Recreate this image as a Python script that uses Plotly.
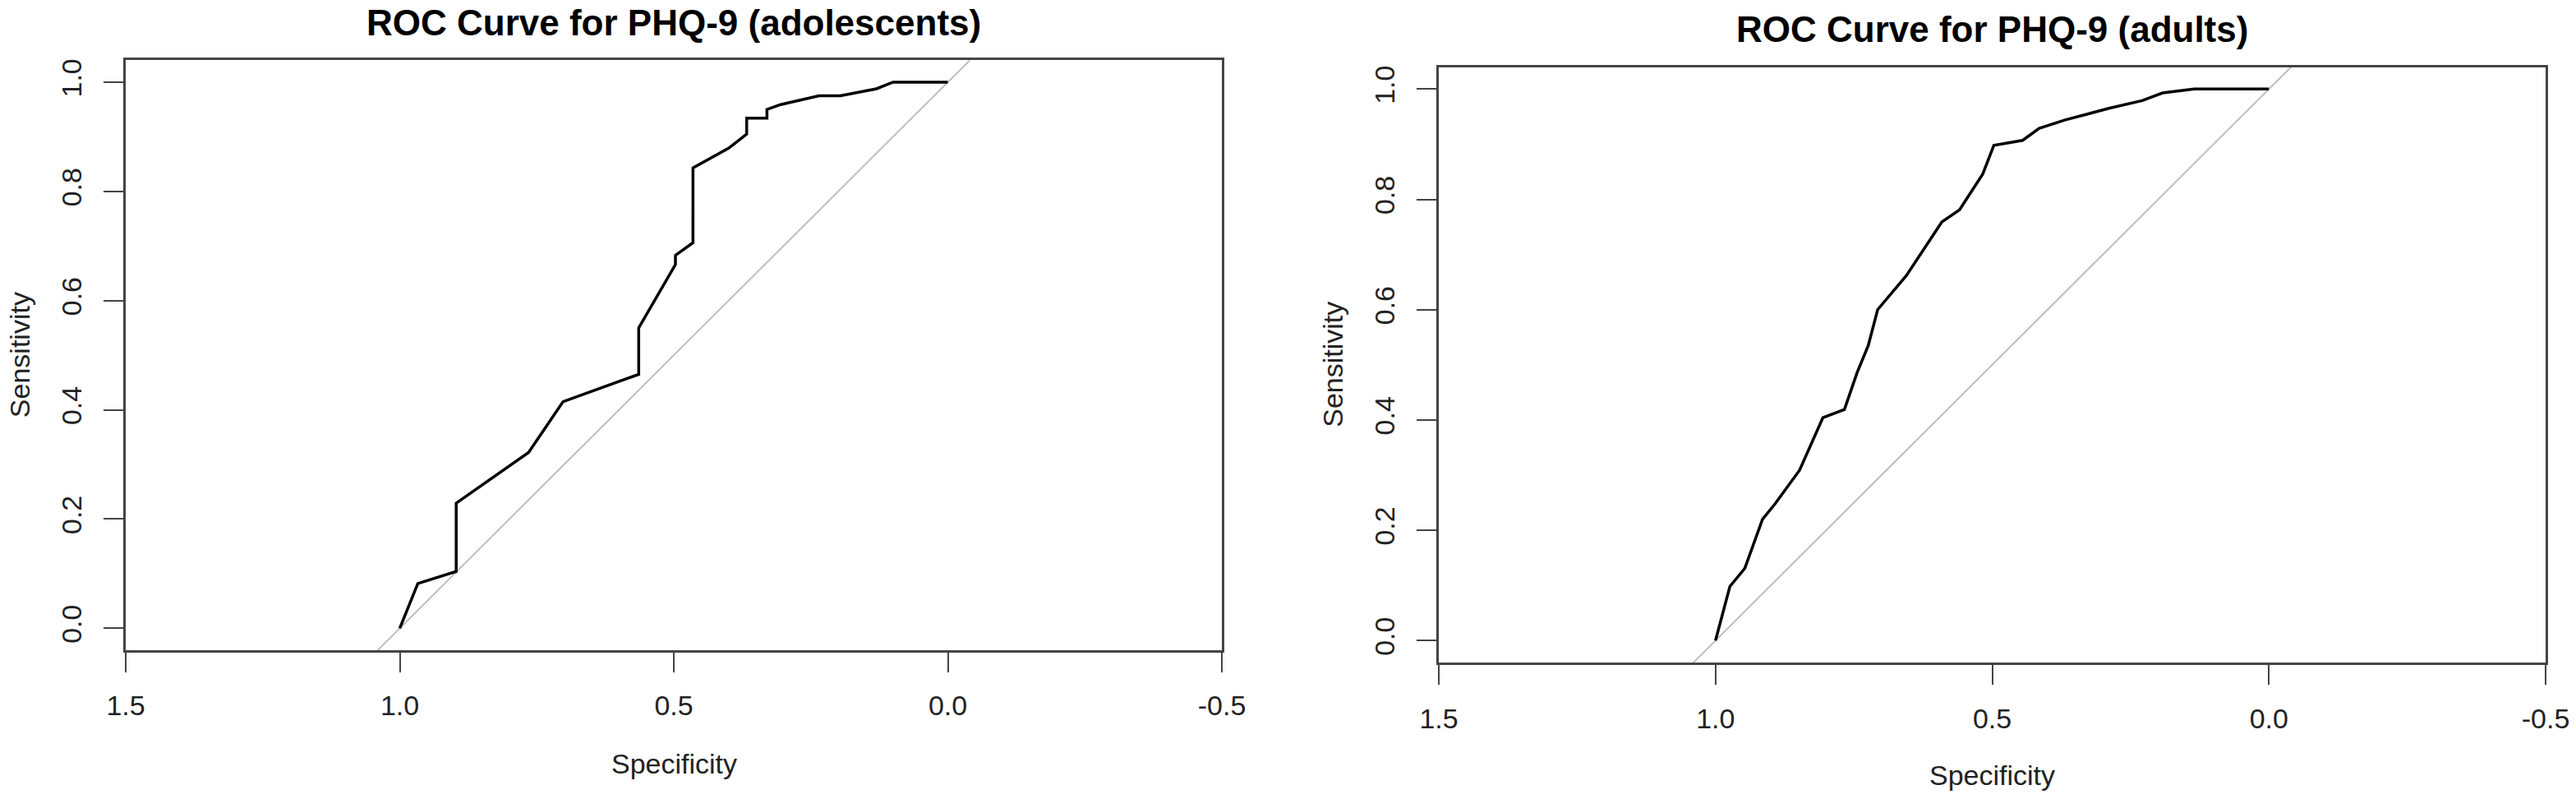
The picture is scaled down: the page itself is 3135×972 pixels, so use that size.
import plotly.graph_objects as go

# ---- data ----
adol_spec = [1.0, 0.967, 0.897, 0.897, 0.765, 0.702, 0.564, 0.564, 0.497, 0.497, 0.465, 0.465,
             0.400, 0.367, 0.367, 0.330, 0.330, 0.305, 0.235, 0.196, 0.130, 0.100, 0.0]
adol_sens = [0.0, 0.082, 0.104, 0.229, 0.322, 0.415, 0.465, 0.550, 0.666, 0.683, 0.706, 0.843,
             0.879, 0.905, 0.934, 0.934, 0.950, 0.959, 0.975, 0.975, 0.988, 1.0, 1.0]

adult_spec = [1.0, 0.974, 0.947, 0.915, 0.893, 0.848, 0.806, 0.767, 0.744, 0.724, 0.707, 0.655,
              0.591, 0.559, 0.517, 0.497, 0.445, 0.415, 0.368, 0.289, 0.229, 0.192, 0.135, 0.0]
adult_sens = [0.0, 0.098, 0.131, 0.220, 0.247, 0.309, 0.404, 0.419, 0.486, 0.535, 0.600, 0.662,
              0.759, 0.781, 0.846, 0.898, 0.907, 0.929, 0.944, 0.965, 0.979, 0.993, 1.0, 1.0]

x_tickvals = [1.5, 1.0, 0.5, 0.0, -0.5]
x_ticktext = ["1.5", "1.0", "0.5", "0.0", "-0.5"]
y_tickvals = [0.0, 0.2, 0.4, 0.6, 0.8, 1.0]
y_ticktext = ["0.0", "0.2", "0.4", "0.6", "0.8", "1.0"]

titles = ["ROC Curve for PHQ-9 (adolescents)", "ROC Curve for PHQ-9 (adults)"]
x_label = "Specificity"
y_label = "Sensitivity"

x_range = [1.5, -0.5]
y_range = [-0.04, 1.04]

# reference diagonal (sensitivity = 1 - specificity) across the axis range
diag_x = [x_range[0], x_range[1]]
diag_y = [1 - v for v in diag_x]

# ---- layout geometry (target pixels in the screenshot) ----
W, H = 3135, 972
FONT = "Liberation Sans, Arial, Helvetica, sans-serif"
panels = [
    dict(box=(153, 1487, 73.4, 790.9), title_y=28, ylab_x=24, xlab_y=929),
    dict(box=(1751, 3098, 81.5, 806.1), title_y=36, ylab_x=1622, xlab_y=943),
]


def px(v):
    return v / W


def py(v):
    return 1 - v / H


fig = go.Figure()
series = [(adol_spec, adol_sens), (adult_spec, adult_sens)]
for i, (sx, sy) in enumerate(series):
    xa = "x" if i == 0 else "x2"
    ya = "y" if i == 0 else "y2"
    fig.add_trace(go.Scatter(x=diag_x, y=diag_y, xaxis=xa, yaxis=ya, mode="lines",
                             line=dict(color="#bebebe", width=2), hoverinfo="skip",
                             showlegend=False))
    fig.add_trace(go.Scatter(x=sx, y=sy, xaxis=xa, yaxis=ya, mode="lines",
                             line=dict(color="black", width=3.5), showlegend=False))

axis_common = dict(showgrid=False, zeroline=False, showline=True, mirror=True,
                   automargin=False,
                   linecolor="#444444", linewidth=2.5, ticks="outside", ticklen=24,
                   tickwidth=2, tickcolor="#444444",
                   tickfont=dict(family=FONT, size=34, color="#222222"))

annotations = []
for i, p in enumerate(panels):
    x0, x1, yt, yb = p["box"]
    xd = [px(x0), px(x1)]
    yd = [py(yb), py(yt)]
    sfx = "" if i == 0 else "2"
    fig.update_layout(**{
        "xaxis" + sfx: dict(axis_common, domain=xd, range=x_range, anchor="y" + sfx,
                            tickvals=x_tickvals, ticktext=x_ticktext, ticklabelstandoff=12),
        "yaxis" + sfx: dict(axis_common, domain=yd, range=y_range, anchor="x" + sfx,
                            tickvals=y_tickvals, ticktext=y_ticktext, tickangle=-90,
                            ticklabelstandoff=14),
    })
    cx = (x0 + x1) / 2
    cy = (yt + yb) / 2
    annotations.append(dict(text="<b>" + titles[i] + "</b>", x=px(cx), y=py(p["title_y"]),
                            xref="paper", yref="paper", xanchor="center", yanchor="middle",
                            showarrow=False, font=dict(family=FONT, size=44, color="black")))
    annotations.append(dict(text=x_label, x=px(cx), y=py(p["xlab_y"]),
                            xref="paper", yref="paper", xanchor="center", yanchor="middle",
                            showarrow=False, font=dict(family=FONT, size=34, color="#222222")))
    annotations.append(dict(text=y_label, x=px(p["ylab_x"]), y=py(cy), textangle=-90,
                            xref="paper", yref="paper", xanchor="center", yanchor="middle",
                            showarrow=False, font=dict(family=FONT, size=34, color="#222222")))

fig.update_layout(width=W, height=H, margin=dict(l=0, r=0, t=0, b=0, autoexpand=False),
                  paper_bgcolor="white", plot_bgcolor="white",
                  annotations=annotations, showlegend=False)

# remove the default page margin so the figure sits at the window's top-left corner
fig.write_html("out.html", config={"displayModeBar": False},
               post_script="document.body.style.margin='0px';")
